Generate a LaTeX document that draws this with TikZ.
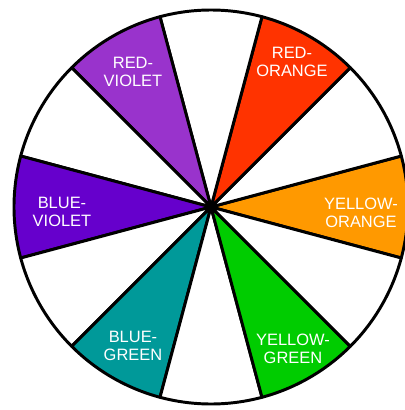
\documentclass[tikz,border=0pt]{standalone}
\usepackage{tikz}
\usepackage{xcolor}
\usepackage{fontspec}
\setmainfont{Liberation Sans}
\definecolor{redviolet}{HTML}{9933CC}
\definecolor{redorange}{HTML}{FF3300}
\definecolor{yelloworange}{HTML}{FF9900}
\definecolor{yellowgreen}{HTML}{00CC00}
\definecolor{bluegreen}{HTML}{009999}
\definecolor{blueviolet}{HTML}{6600CC}

\begin{document}
\begin{tikzpicture}[x=0.025cm, y=0.025cm,
    wedge/.style={draw=black, line width=2.1pt, line join=round},
    hue/.style={text=white, align=center, font=\fontsize{11.7}{12.8}\selectfont}]
    \useasboundingbox (-211,-203) rectangle (193,207);
    \foreach \a/\c in {0/yelloworange, 30/white, 60/redorange, 90/white,
                       120/redviolet, 150/white, 180/blueviolet, 210/white,
                       240/bluegreen, 270/white, 300/yellowgreen, 330/white}
        \draw[wedge, fill=\c] (0,0) -- (\a-15:197) arc (\a-15:\a+15:197) -- cycle;
    \fill[black] (0,0) circle (6);

    \node[hue] (rv) at (-78,135) {RED-\\VIOLET};
    \node[hue] (ro) at (81,145) {RED-\\ORANGE};
    \node[hue] (bv) at (-149,-5) {BLUE-\\VIOLET};
    \node[hue] (yo) at (150,-6) {YELLOW-\\ORANGE};
    \node[hue] (bg) at (-78,-139) {BLUE-\\GREEN};
    \node[hue] (yg) at (82,-142) {YELLOW-\\GREEN};
\end{tikzpicture}
\end{document}
